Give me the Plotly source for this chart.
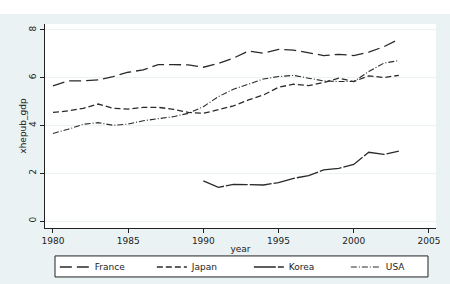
import plotly.graph_objects as go

years = list(range(1980, 2004))
france = [5.66, 5.87, 5.87, 5.91, 6.05, 6.23, 6.33, 6.55, 6.55, 6.54, 6.44, 6.60,
          6.82, 7.12, 7.03, 7.19, 7.16, 7.05, 6.93, 6.98, 6.93, 7.07, 7.30, 7.61]
japan = [4.55, 4.61, 4.72, 4.90, 4.72, 4.69, 4.76, 4.76, 4.68, 4.55, 4.51, 4.65,
         4.82, 5.07, 5.28, 5.60, 5.73, 5.67, 5.80, 5.98, 5.84, 6.08, 6.01, 6.10]
korea_years = list(range(1990, 2004))
korea = [1.68, 1.41, 1.54, 1.54, 1.51, 1.61, 1.79, 1.90, 2.14, 2.21, 2.37, 2.88, 2.79, 2.93]
usa = [3.67, 3.84, 4.05, 4.12, 4.01, 4.06, 4.20, 4.30, 4.37, 4.51, 4.79, 5.21,
       5.52, 5.73, 5.95, 6.05, 6.10, 5.98, 5.87, 5.84, 5.84, 6.26, 6.61, 6.72]
x_ticks = [1980, 1985, 1990, 1995, 2000, 2005]
y_ticks = [0, 2, 4, 6, 8]

FONT = "DejaVu Sans"
LC = "#2a2a2a"
BG = "#eaf2f3"

fig = go.Figure()
fig.add_trace(go.Scatter(x=years, y=france, name="France", mode="lines",
                         line=dict(color=LC, width=1.3, dash="12px,5px")))
fig.add_trace(go.Scatter(x=years, y=japan, name="Japan", mode="lines",
                         line=dict(color=LC, width=1.3, dash="6px,3px")))
fig.add_trace(go.Scatter(x=korea_years, y=korea, name="Korea", mode="lines",
                         line=dict(color=LC, width=1.3, dash="22px,2px")))
fig.add_trace(go.Scatter(x=years, y=usa, name="USA", mode="lines",
                         line=dict(color=LC, width=1.1, dash="6px,2px,1px,2px")))

fig.update_layout(
    width=450, height=284,
    margin=dict(l=45, r=14, t=24, b=56, autoexpand=False),
    paper_bgcolor=BG, plot_bgcolor="white",
    font=dict(family=FONT, size=9, color="#222"),
    showlegend=True,
    legend=dict(orientation="h", xref="container", x=0.553, xanchor="center",
                y=-0.12, yanchor="top",
                bgcolor="rgba(0,0,0,0)", borderwidth=0,
                font=dict(family=FONT, size=9, color="#222"),
                entrywidth=52, entrywidthmode="pixels", tracegroupgap=0),
    xaxis=dict(range=[1979.47, 2005.47], tickvals=x_ticks, ticks="outside", ticklen=4,
               tickcolor="#222", showline=True, linecolor="#222", linewidth=1,
               showgrid=False, zeroline=False, automargin=False,
               title=dict(text="year", standoff=0, font=dict(size=9))),
    yaxis=dict(range=[-0.29, 8.25], tickvals=y_ticks, ticks="outside", ticklen=4,
               tickcolor="#222", showline=True, linecolor="#222", linewidth=1,
               tickangle=-90, showgrid=True, gridcolor=BG, gridwidth=1, zeroline=False,
               automargin=False,
               title=dict(text="xhepub_gdp", standoff=0, font=dict(size=9))),
    shapes=[dict(type="rect", xref="paper", yref="paper", x0=-0.3, x1=1.3,
                 y0=1.049, y1=1.3, fillcolor="white", line=dict(width=0), layer="below"),
            dict(type="rect", xref="paper", yref="paper", x0=0.0256, x1=0.9795,
                 y0=-0.240, y1=-0.137, fillcolor="white",
                 line=dict(color="#222", width=1), layer="below")],
)

fig.write_html("out.html")
